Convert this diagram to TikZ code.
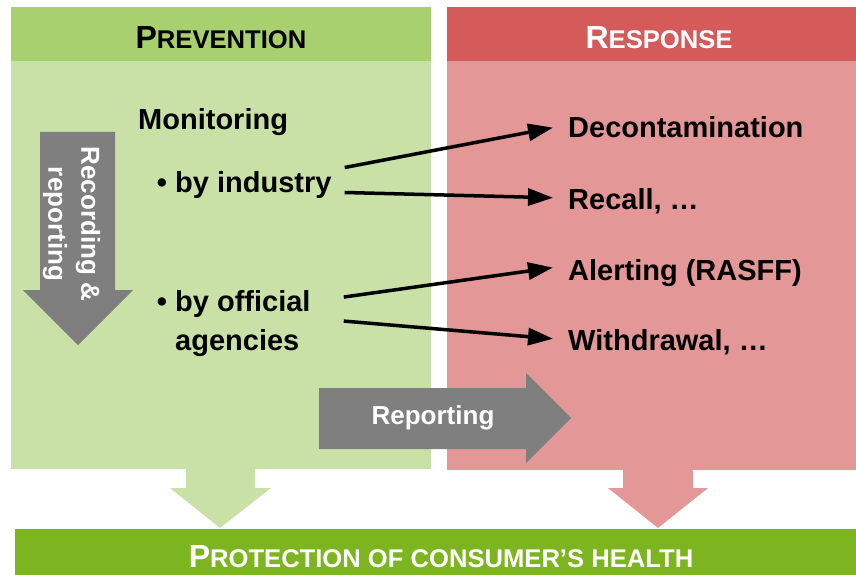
\documentclass[tikz,border=0pt]{standalone}
\usepackage{fontspec}
\setmainfont{Liberation Sans}
\usetikzlibrary{arrows.meta}

\definecolor{prevhead}{HTML}{A9D06E}
\definecolor{prevbody}{HTML}{C9E0A6}
\definecolor{resphead}{HTML}{D55A5A}
\definecolor{respbody}{HTML}{E49797}
\definecolor{protbar}{HTML}{7CB520}
\definecolor{flowgray}{HTML}{7F7F7F}

\newcommand{\bodyfont}{\fontsize{29}{39}\selectfont\bfseries}
\newcommand{\tagfont}{\fontsize{26}{33}\selectfont\bfseries}
\newcommand{\scword}[2]{{\fontsize{32}{38}\selectfont\bfseries #1}{\fontsize{25.6}{30}\selectfont\bfseries #2}}

\begin{document}
\begin{tikzpicture}[x=1pt, y=-1pt,
    txt/.style={anchor=base west, inner sep=0pt, font=\bodyfont},
    flow/.style={-{Triangle[length=25pt,width=17pt]}, line width=3.5pt}]

    % Page frame (pixel grid of the reference, y downwards)
    \useasboundingbox (0,0) rectangle (856,575);

    % Prevention panel
    \fill[prevbody] (11,7) rectangle (431,469);
    \fill[prevhead] (11,7) rectangle (431,61);
    \node[anchor=base, inner sep=0pt] (prevtitle) at (221,49) {\scword{P}{REVENTION}};

    % Response panel
    \fill[respbody] (447,7) rectangle (856,470);
    \fill[resphead] (447,7) rectangle (856,61);
    \node[anchor=base, inner sep=0pt, text=white] (resptitle) at (659,49) {\scword{R}{ESPONSE}};

    % Bottom bar
    \fill[protbar] (15,529) rectangle (856,575);
    \node[anchor=base, inner sep=0pt, text=white] (prottitle) at (441,567)
        {\scword{P}{ROTECTION OF CONSUMER’S HEALTH}};

    % Block arrows down into the bar
    \fill[prevbody] (186,468) -- (255,468) -- (255,488) -- (271,488) -- (220,528)
        -- (170,488) -- (186,488) -- cycle;
    \fill[respbody] (623,469) -- (693,469) -- (693,488) -- (708,488) -- (658,528)
        -- (608,488) -- (623,488) -- cycle;

    % Recording & reporting arrow
    \fill[flowgray] (40,132) -- (115,132) -- (115,290) -- (133,290) -- (78,345)
        -- (23,290) -- (40,290) -- cycle;
    \node[rotate=-90, align=center, text=white, font=\tagfont, inner sep=0pt] (rec) at (71.5,224)
        {Recording \&\\reporting};

    % Reporting arrow
    \fill[flowgray] (319,388) -- (526,388) -- (526,373) -- (571,418) -- (526,463)
        -- (526,449) -- (319,449) -- cycle;
    \node[anchor=base, inner sep=0pt, text=white, font=\tagfont] (repo) at (433,424) {Reporting};

    % Monitoring side
    \node[txt] (mon) at (138,129) {Monitoring};
    \node[txt] (ind) at (175,192) {by industry};
    \node[txt, align=left] (off) at (175,350) {by official\\agencies};
    \node[anchor=base, inner sep=0pt, font=\bodyfont] (b1) at (162,192) {\textbullet};
    \node[anchor=base, inner sep=0pt, font=\bodyfont] (b2) at (162,311) {\textbullet};

    % Response side
    \node[txt] (dec) at (568,138) {Decontamination};
    \node[txt] (rcl) at (568,209) {Recall, …};
    \node[txt] (alr) at (568,280) {Alerting (RASFF)};
    \node[txt] (wdr) at (568,350) {Withdrawal, …};

    % Connectors
    \draw[flow] ([shift={(13,-17)}]ind.east) -- ([shift={(-15,0)}]dec.west);
    \draw[flow] ([shift={(13,8)}]ind.east) -- ([shift={(-15,-3)}]rcl.west);
    \draw[flow] ([shift={(33,-26)}]off.east) -- ([shift={(-15,-5)}]alr.west);
    \draw[flow] ([shift={(33,-2)}]off.east) -- ([shift={(-15,-3)}]wdr.west);

\end{tikzpicture}
\end{document}
